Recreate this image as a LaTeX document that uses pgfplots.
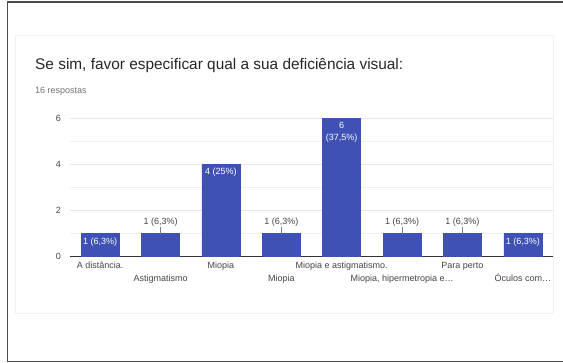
\documentclass[border=0pt]{standalone}
\usepackage{pgfplots}
\pgfplotsset{compat=1.18}
\usepackage{fontspec}
\setmainfont{Liberation Sans}
\definecolor{barc}{HTML}{3F51B5}
\definecolor{gridc}{HTML}{E8E8E8}
\definecolor{axisc}{HTML}{333333}
\definecolor{labc}{HTML}{444444}
\definecolor{cardc}{HTML}{F2F2F2}
\definecolor{borderc}{HTML}{4A4A4A}
\newcommand\lab{\fontsize{9bp}{11.5bp}\selectfont}
\begin{document}
\begin{tikzpicture}
\useasboundingbox (0,0) rectangle (563bp,363bp);
\draw[borderc, line width=1.5bp] (7.3bp,1.3bp) rectangle (580bp,361.2bp);
\draw[cardc, line width=0.8bp] (15bp,50bp) rectangle (553bp,328bp);
\node[anchor=base west, inner sep=0pt, text=black!85, font=\fontsize{15.4bp}{18bp}\selectfont] at (35bp,293bp) {Se sim, favor especificar qual a sua deficiência visual:};
\node[anchor=base west, inner sep=0pt, text=black!55, font=\fontsize{9bp}{11bp}\selectfont] at (35bp,269bp) {16 respostas};
\begin{axis}[
  at={(70bp,106.3bp)}, anchor=south west,
  scale only axis, width=483bp, height=138.4bp,
  xmin=-0.5, xmax=7.5, ymin=0, ymax=6,
  clip=false,
  ybar, bar width=38bp, bar shift=0pt,
  xtick={0,...,7},
  xticklabels={{\strut A distância.},{\strut\\Astigmatismo},{\strut Miopia},{\strut\\Miopia},{\strut Miopia e astigmatismo.},{\strut\\Miopia, hipermetropia e…},{\strut Para perto},{\strut\\Óculos com…}},
  xticklabel style={align=center, inner sep=0pt, yshift=-2bp, text=labc, font=\fontsize{9bp}{13.3bp}\selectfont},
  ytick={0,2,4,6}, minor ytick={1,3,5},
  yticklabel style={inner sep=0pt, xshift=-9bp, text=labc, font=\lab},
  /pgf/number format/assume math mode=true,
  ymajorgrids, yminorgrids,
  major grid style={draw=gridc, line width=0.8bp},
  minor grid style={draw=gridc!70, line width=0.8bp},
  axis lines*=left,
  y axis line style={draw=none},
  x axis line style={draw=axisc, line width=1bp},
  major tick length=0pt, minor tick length=0pt,
  point meta=explicit symbolic,
]
\addplot[fill=barc, draw=barc, nodes near coords,
  every node near coord/.style={anchor=north, text=white, font=\lab, inner sep=0pt, yshift=-3.8bp, align=center}]
  coordinates {(0,1) [1 (6,3\%)] (2,4) [4 (25\%)] (4,6) [{6\\(37,5\%)}] (7,1) [1 (6,3\%)]};
\addplot[fill=barc, draw=barc, nodes near coords,
  every node near coord/.style={anchor=south, text=labc, font=\lab, inner sep=0pt, yshift=7bp},
  error bars/.cd, y dir=plus, y fixed=0.3, error mark=none,
  error bar style={draw=gray, line width=0.7bp}]
  coordinates {(1,1) [1 (6,3\%)] (3,1) [1 (6,3\%)] (5,1) [1 (6,3\%)] (6,1) [1 (6,3\%)]};
\end{axis}
\end{tikzpicture}
\end{document}
